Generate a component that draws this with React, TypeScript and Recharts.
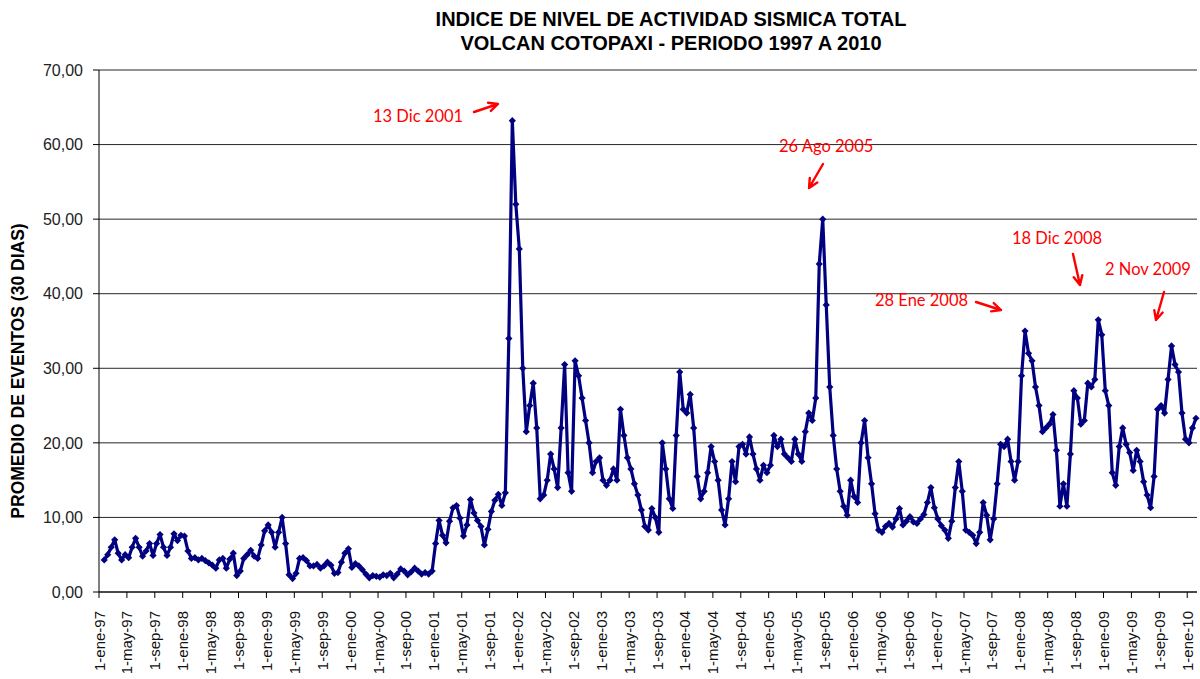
import { LineChart, Line, XAxis, YAxis, CartesianGrid } from 'recharts';

// semi-monthly averages (30-day window)
const firstYear = 1997;
const v1997 = [null, 4.3, 5.0, 6.0, 7.0, 5.2, 4.3, 5.0, 4.6, 6.0, 7.2, 6.0, 4.8, 5.5, 6.5, 4.9, 6.5, 7.7, 6.0, 4.9, 6.0, 7.8, 6.9, 7.6];
const v1998 = [7.5, 5.5, 4.5, 4.6, 4.3, 4.5, 4.2, 3.9, 3.6, 3.2, 4.3, 4.5, 3.2, 4.4, 5.2, 2.2, 2.8, 4.5, 5.0, 5.6, 4.8, 4.5, 6.3, 8.2];
const v1999 = [9.0, 8.0, 6.0, 8.0, 10.0, 6.5, 2.3, 1.8, 2.5, 4.5, 4.6, 4.2, 3.5, 3.5, 3.7, 3.2, 3.5, 4.0, 3.6, 2.5, 2.6, 4.0, 5.2, 5.8];
const v2000 = [3.3, 3.8, 3.5, 3.0, 2.4, 1.9, 2.2, 2.1, 2.0, 2.3, 2.2, 2.5, 1.9, 2.4, 3.1, 2.8, 2.3, 2.7, 3.2, 2.8, 2.4, 2.6, 2.4, 2.8];
const v2001 = [6.5, 9.6, 7.6, 6.6, 9.5, 11.3, 11.6, 9.9, 7.5, 9.0, 12.4, 10.6, 9.6, 8.8, 6.3, 8.4, 10.8, 12.3, 13.1, 11.6, 13.3, 34.0, 63.2, 52.0];
const v2002 = [46.0, 30.0, 21.5, 25.0, 28.0, 22.0, 12.5, 13.0, 15.0, 18.5, 16.5, 14.0, 22.0, 30.5, 16.0, 13.5, 31.0, 29.0, 26.0, 23.0, 20.0, 16.0, 17.5, 18.0];
const v2003 = [15.0, 14.3, 15.0, 16.5, 15.0, 24.5, 21.0, 18.0, 16.5, 14.5, 13.0, 11.0, 8.8, 8.3, 11.2, 10.0, 8.0, 20.0, 16.5, 12.5, 11.2, 21.0, 29.5, 24.5];
const v2004 = [24.0, 26.5, 22.0, 15.5, 12.5, 13.5, 16.0, 19.5, 17.5, 15.0, 11.0, 9.0, 12.5, 17.5, 14.8, 19.5, 19.8, 18.5, 20.8, 18.5, 16.5, 15.0, 17.0, 16.0];
const v2005 = [17.0, 21.0, 19.5, 20.5, 18.5, 18.0, 17.5, 20.5, 18.5, 17.5, 21.5, 24.0, 23.0, 26.0, 44.0, 50.0, 38.5, 27.5, 21.0, 16.5, 13.5, 11.5, 10.3, 15.0];
const v2006 = [12.8, 12.0, 20.0, 23.0, 18.0, 14.5, 10.5, 8.3, 8.0, 8.8, 9.2, 8.7, 9.8, 11.2, 9.0, 9.5, 10.1, 9.4, 9.2, 9.8, 10.4, 12.0, 14.0, 11.3];
const v2007 = [9.8, 8.9, 8.3, 7.2, 9.5, 14.0, 17.5, 13.5, 8.3, 8.0, 7.6, 6.5, 8.0, 12.0, 10.3, 7.0, 9.8, 14.5, 19.8, 19.5, 20.5, 17.5, 15.0, 17.5];
const v2008 = [29.0, 35.0, 32.0, 31.0, 27.5, 25.0, 21.5, 22.0, 22.5, 23.8, 19.0, 11.5, 14.5, 11.5, 18.5, 27.0, 26.0, 22.5, 23.0, 28.0, 27.5, 28.5, 36.5, 34.5];
const v2009 = [27.0, 25.0, 16.0, 14.3, 19.5, 22.0, 19.8, 18.7, 16.3, 19.0, 17.5, 14.8, 13.0, 11.3, 15.5, 24.5, 25.0, 24.0, 28.5, 33.0, 30.5, 29.5, 24.0, 20.5];
const v2010 = [20.0, 22.0, 23.3];

const years = [v1997, v1998, v1999, v2000, v2001, v2002, v2003, v2004, v2005, v2006, v2007, v2008, v2009, v2010];

const tickMonths = ['ene', 'may', 'sep'];
const yTicks = [0, 10, 20, 30, 40, 50, 60, 70];

const annotations = [
  { text: '13 Dic 2001', x: 373, y: 116, arrow: [474, 112, 498, 104] },
  { text: '26 Ago 2005', x: 779, y: 146, arrow: [823, 164, 809, 188] },
  { text: '18 Dic 2008', x: 1012, y: 238, arrow: [1073, 254, 1080, 285] },
  { text: '2 Nov 2009', x: 1105, y: 269, arrow: [1164, 292, 1156, 320] },
  { text: '28 Ene 2008', x: 875, y: 300, arrow: [976, 302, 1001, 310] },
];

// month index from 1-ene-97
const data: { t: number; v: number }[] = [];
years.forEach((vals, yi) => {
  vals.forEach((v, i) => {
    if (v != null) data.push({ t: yi * 12 + i * 0.5 + 0.25, v });
  });
});

const xTicks: number[] = [];
const xLabels: string[] = [];
for (let y = firstYear; y <= 2010; y++) {
  tickMonths.forEach((m, k) => {
    if (y === 2010 && k > 0) return;
    xTicks.push((y - firstYear) * 12 + k * 4);
    xLabels.push(`1-${m}-${String(y % 100).padStart(2, '0')}`);
  });
}

const NAVY = '#000080';

const Diamond = (props: any) => {
  const { cx, cy, index } = props;
  if (cx == null || cy == null) return <g key={`d${index}`} />;
  const s = 3.6;
  return (
    <path
      key={`d${index}`}
      d={`M${cx},${cy - s}L${cx + s},${cy}L${cx},${cy + s}L${cx - s},${cy}Z`}
      fill={NAVY}
    />
  );
};

const XTick = (props: any) => {
  const { x, y, payload } = props;
  const idx = xTicks.indexOf(payload.value);
  return (
    <g transform={`translate(${x},${y + 11})`}>
      <text
        transform="rotate(-90)"
        textAnchor="end"
        dominantBaseline="central"
        fontSize={15}
        fontFamily="'Liberation Sans', Arial, sans-serif"
        fill="#111"
      >
        {xLabels[idx]}
      </text>
    </g>
  );
};

function Arrow({ a }: { a: number[] }) {
  const [x1, y1, x2, y2] = a;
  const ang = Math.atan2(y2 - y1, x2 - x1);
  const h = 10;
  const spread = 0.45;
  const p1 = [x2 - h * Math.cos(ang - spread), y2 - h * Math.sin(ang - spread)];
  const p2 = [x2 - h * Math.cos(ang + spread), y2 - h * Math.sin(ang + spread)];
  return (
    <path
      d={`M${x1},${y1}L${x2},${y2}M${p1[0]},${p1[1]}L${x2},${y2}L${p2[0]},${p2[1]}`}
      stroke="#ff0000"
      strokeWidth={2.4}
      fill="none"
      strokeLinecap="round"
      strokeLinejoin="round"
    />
  );
}

export default function App() {
  return (
    <div style={{ position: 'absolute', left: 0, top: 0, width: 1200, height: 679, background: '#fff' }}>
      <LineChart width={1200} height={679} data={data} margin={{ top: 70, right: 3, bottom: 0, left: 0 }}>
        <CartesianGrid vertical={false} stroke="#000" strokeOpacity={0.85} />
        <XAxis
          dataKey="t"
          type="number"
          domain={[0, 157.4]}
          ticks={xTicks}
          interval={0}
          height={87}
          tick={<XTick />}
          tickSize={6}
          axisLine={{ stroke: '#000' }}
          tickLine={{ stroke: '#000' }}
        />
        <YAxis
          type="number"
          domain={[0, 70]}
          ticks={yTicks}
          width={99}
          tickSize={6}
          tickMargin={10}
          tickFormatter={(v: number) => v.toFixed(2).replace('.', ',')}
          tick={{ fontSize: 16, fontFamily: "'Liberation Sans', Arial, sans-serif", fill: '#222' }}
          axisLine={{ stroke: '#000' }}
          tickLine={{ stroke: '#000' }}
        />
        <Line
          type="linear"
          dataKey="v"
          stroke={NAVY}
          strokeWidth={3.2}
          strokeLinejoin="round"
          dot={Diamond}
          isAnimationActive={false}
        />
      </LineChart>
      <svg
        width={1200}
        height={679}
        style={{ position: 'absolute', left: 0, top: 0, pointerEvents: 'none' }}
      >
        <g fontFamily="'Liberation Sans', Arial, sans-serif" fontWeight="bold" fill="#000">
          <text x={671} y={26} textAnchor="middle" fontSize={20}>
            INDICE DE NIVEL DE ACTIVIDAD SISMICA TOTAL
          </text>
          <text x={671} y={50} textAnchor="middle" fontSize={20}>
            VOLCAN COTOPAXI - PERIODO 1997 A 2010
          </text>
          <text
            transform="translate(18,371) rotate(-90)"
            textAnchor="middle"
            dominantBaseline="central"
            fontSize={17.5}
          >
            PROMEDIO DE EVENTOS (30 DIAS)
          </text>
        </g>
        {annotations.map((a) => (
          <g key={a.text}>
            <text
              x={a.x}
              y={a.y}
              dominantBaseline="central"
              fontSize={16.5}
              fontFamily="Lato, 'Open Sans', sans-serif"
              fill="#ff0000"
            >
              {a.text}
            </text>
            <Arrow a={a.arrow} />
          </g>
        ))}
      </svg>
    </div>
  );
}
